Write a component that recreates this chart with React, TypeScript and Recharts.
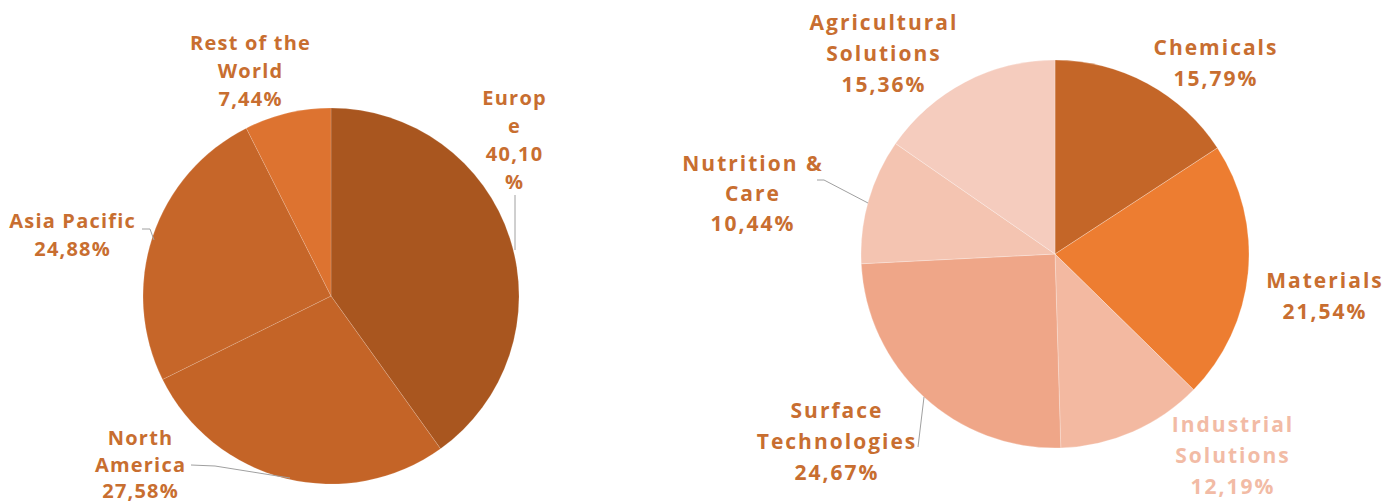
import { PieChart, Pie, Cell } from 'recharts';

// regions (left pie)
const regionNames = ['Europe', 'North America', 'Asia Pacific', 'Rest of the World'];
const regionShares = [40.1, 27.58, 24.88, 7.44];
const regionLabels = [
  ['Europ', 'e', '40,10', '%'],
  ['North', 'America', '27,58%'],
  ['Asia Pacific', '24,88%'],
  ['Rest of the', 'World', '7,44%'],
];

// segments (right pie)
const segmentNames = ['Chemicals', 'Materials', 'Industrial Solutions', 'Surface Technologies', 'Nutrition & Care', 'Agricultural Solutions'];
const segmentShares = [15.79, 21.54, 12.19, 24.67, 10.44, 15.36];
const segmentLabels = [
  ['Chemicals', '15,79%'],
  ['Materials', '21,54%'],
  ['Industrial', 'Solutions', '12,19%'],
  ['Surface', 'Technologies', '24,67%'],
  ['Nutrition &', 'Care', '10,44%'],
  ['Agricultural', 'Solutions', '15,36%'],
];

const regionData = regionNames.map((name, i) => ({ name, value: regionShares[i] }));
const segmentData = segmentNames.map((name, i) => ({ name, value: segmentShares[i] }));

const regionColors = ['#A9561F', '#C46427', '#C66629', '#DD7330'];
const segmentColors = ['#C46628', '#ED7D31', '#F3B9A1', '#EFA688', '#F4C4B1', '#F5CCBE'];

const TEXT = '#C86E30';
const LEADER = '#A0A0A0';

// label placement relative to pie centre: first line position + leader polyline
const regionLayout = [
  { dx: 183, dy: -199, gap: 28, lead: [[184, -101], [184, -46]] },
  { dx: -191, dy: 141, gap: 26.5, lead: [[-140, 169], [-116, 170], [-41, 182]] },
  { dx: -259, dy: -76, gap: 28, lead: [[-189, -67], [-181, -67], [-177, -56]] },
  { dx: -81, dy: -254, gap: 28, lead: [] },
];
const segmentLayout = [
  { dx: 160, dy: -207, gap: 31, lead: [] },
  { dx: 269, dy: 26, gap: 31, lead: [] },
  { dx: 177, dy: 170, gap: 31, lead: [] },
  { dx: -219, dy: 156, gap: 31, lead: [[-137, 193], [-131, 143]] },
  { dx: -303, dy: -91, gap: 30, lead: [[-238, -74], [-231, -74], [-187, -51]] },
  { dx: -172, dy: -232, gap: 31, lead: [] },
];

function makeLabel(
  lines: string[][],
  layout: any[],
  fontSize: number,
  spacing: number,
  colors: (string | null)[]
) {
  return (props: any) => {
    const { cx, cy, index } = props;
    const l = layout[index];
    const color = colors[index] || TEXT;
    return (
      <g key={'lbl' + index}>
        {l.lead.length > 0 && (
          <polyline
            points={l.lead.map((p: number[]) => `${cx + p[0]},${cy + p[1]}`).join(' ')}
            fill="none"
            stroke={LEADER}
            strokeWidth={1}
          />
        )}
        <text
          x={cx + l.dx}
          y={cy + l.dy}
          textAnchor="middle"
          dominantBaseline="central"
          fill={color}
          fontSize={fontSize}
          fontWeight={700}
          letterSpacing={spacing}
          fontFamily="'Open Sans', sans-serif"
        >
          {lines[index].map((t, k) => (
            <tspan key={k} x={cx + l.dx + spacing / 2} dy={k === 0 ? 0 : l.gap}>
              {t}
            </tspan>
          ))}
        </text>
      </g>
    );
  };
}

export default function App() {
  return (
    <div style={{ width: 1388, height: 502, background: '#fff' }}>
      <style>{`body{margin:0}`}</style>
      <PieChart width={1388} height={502} margin={{ top: 0, right: 0, bottom: 0, left: 0 }}>
        <Pie
          data={regionData}
          dataKey="value"
          nameKey="name"
          cx={331}
          cy={296}
          outerRadius={188}
          startAngle={90}
          endAngle={-270}
          stroke="rgba(255,255,255,0.15)"
          strokeWidth={1}
          labelLine={false}
          label={makeLabel(regionLabels, regionLayout, 20, 1.2, [null, null, null, null])}
          isAnimationActive={false}
        >
          {regionData.map((d, i) => (
            <Cell key={d.name} fill={regionColors[i]} />
          ))}
        </Pie>
        <Pie
          data={segmentData}
          dataKey="value"
          nameKey="name"
          cx={1055}
          cy={254}
          outerRadius={194}
          startAngle={90}
          endAngle={-270}
          stroke="rgba(255,255,255,0.25)"
          strokeWidth={1}
          labelLine={false}
          label={makeLabel(segmentLabels, segmentLayout, 21, 2, [null, null, '#F2BBA5', null, null, null])}
          isAnimationActive={false}
        >
          {segmentData.map((d, i) => (
            <Cell key={d.name} fill={segmentColors[i]} />
          ))}
        </Pie>
      </PieChart>
    </div>
  );
}
